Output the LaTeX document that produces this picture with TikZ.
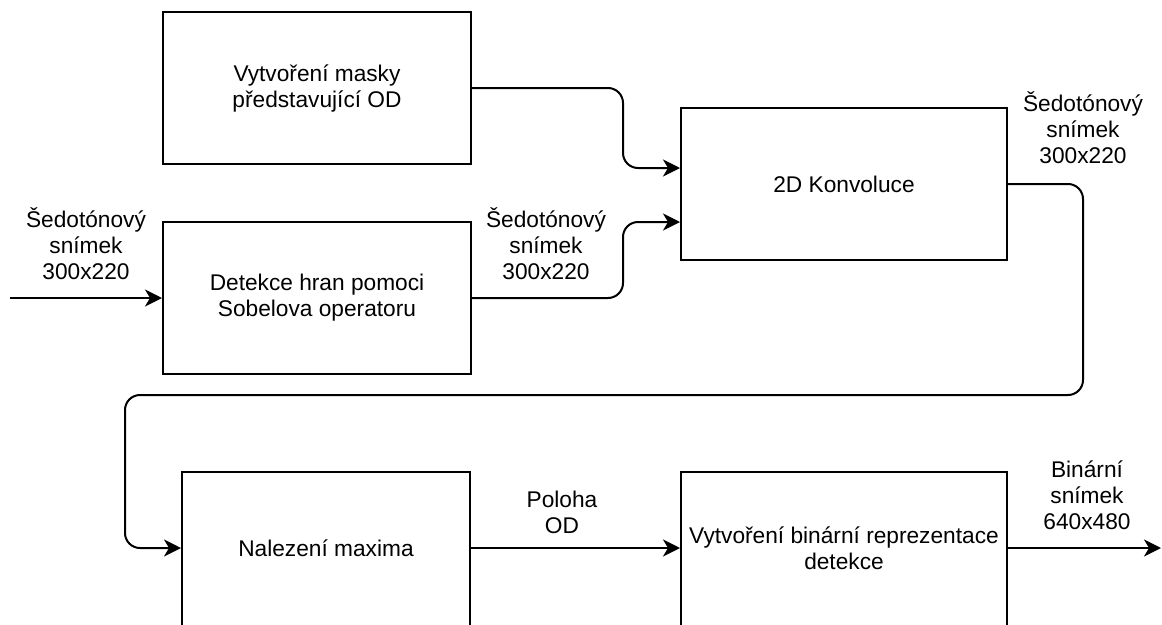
\documentclass[tikz,border=0pt]{standalone}
\usepackage{fontspec}
\setmainfont{Liberation Sans}
\usetikzlibrary{arrows.meta}
\begin{document}
\begin{tikzpicture}[x=1pt,y=-1pt,
  font=\fontsize{22.7}{26}\selectfont,
  box/.style={draw, line width=2pt, rectangle, inner sep=0pt, align=center},
  lbl/.style={align=center, inner sep=0pt},
  conn/.style={line width=2pt, rounded corners=15pt, -{Stealth[length=17pt,width=17pt,inset=5pt]}}]
\useasboundingbox (0,0) rectangle (1162,624);
\node[box, minimum width=308pt, minimum height=152pt] (A) at (317,88) {Vytvoření masky\\představující OD};
\node[box, minimum width=308pt, minimum height=152pt] (B) at (317,298) {Detekce hran pomoci\\Sobelova operatoru};
\node[box, minimum width=326pt, minimum height=152pt] (C) at (844,184) {2D Konvoluce};
\node[box, minimum width=288pt, minimum height=156pt] (D) at (326,550) {};
\node at (326,548) (Dt) {Nalezení maxima};
\node[box, minimum width=326pt, minimum height=156pt] (E) at (844,550) {};
\node[lbl] at (844,548) (Et) {Vytvoření binární reprezentace\\detekce};
\coordinate (in) at (10,298);
\coordinate (out) at (1161,548);
\node[lbl] (L1) at (86,244) {Šedotónový\\snímek\\300x220};
\node[lbl] (L2) at (546,244) {Šedotónový\\snímek\\300x220};
\node[lbl] (L3) at (1083,128) {Šedotónový\\snímek\\300x220};
\node[lbl] (L4) at (562,512) {Poloha\\OD};
\node[lbl] (L5) at (1087,495) {Binární\\snímek\\640x480};
\draw[conn] (in) -- (B.west);
\draw[conn] (A.east |- 0,88) -- (623,88) -- (623,168) -- (C.west |- 0,168);
\draw[conn] (B.east) -- (623,298) -- (623,222) -- (C.west |- 0,222);
\draw[conn] (C.east) -- (1083,184) -- (1083,395) -- (125,395) -- (125,548) -- (D.west |- 0,548);
\draw[conn] (D.east |- 0,548) -- (E.west |- 0,548);
\draw[conn] (E.east |- 0,548) -- (out);
\end{tikzpicture}
\end{document}
